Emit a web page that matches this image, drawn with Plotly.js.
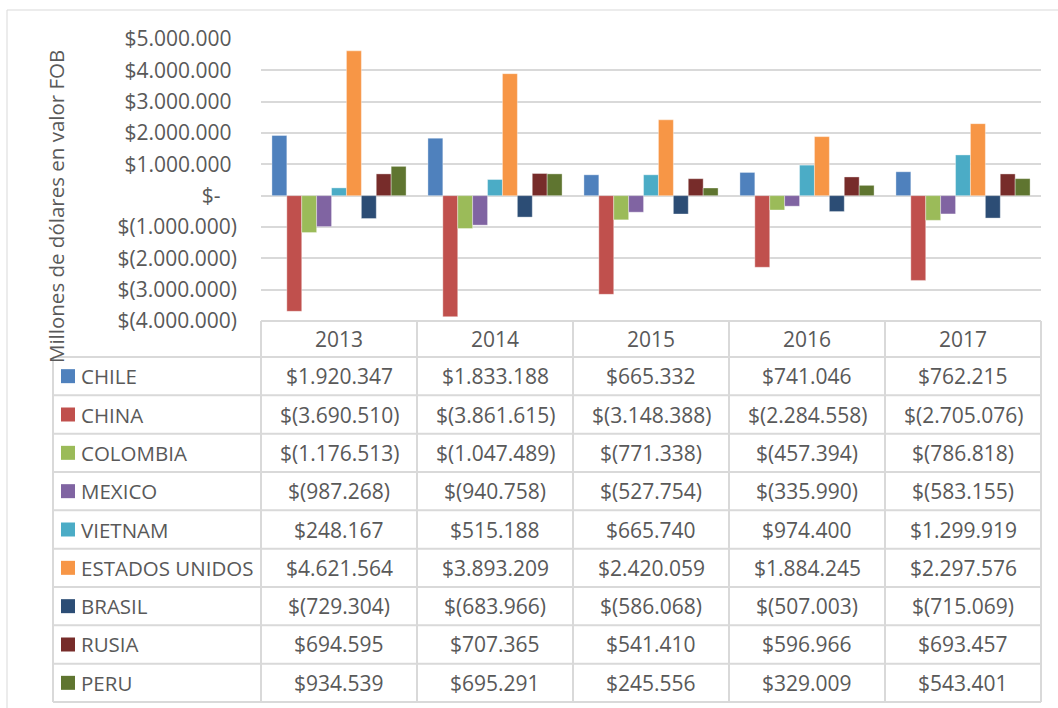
<!DOCTYPE html>
<html>
<head>
<meta charset="utf-8">
<script src="https://cdn.plot.ly/plotly-3.0.1.min.js"></script>
<style>html,body{margin:0;padding:0;background:#fff;}#chart{width:1058px;height:708px;}</style>
</head>
<body>
<div id="chart"></div>
<script>
// ---- data ----
const years = ['2013', '2014', '2015', '2016', '2017'];
const countries = ['CHILE', 'CHINA', 'COLOMBIA', 'MEXICO', 'VIETNAM', 'ESTADOS UNIDOS', 'BRASIL', 'RUSIA', 'PERU'];
const chile    = [1920347, 1833188, 665332, 741046, 762215];
const china    = [-3690510, -3861615, -3148388, -2284558, -2705076];
const colombia = [-1176513, -1047489, -771338, -457394, -786818];
const mexico   = [-987268, -940758, -527754, -335990, -583155];
const vietnam  = [248167, 515188, 665740, 974400, 1299919];
const eeuu     = [4621564, 3893209, 2420059, 1884245, 2297576];
const brasil   = [-729304, -683966, -586068, -507003, -715069];
const rusia    = [694595, 707365, 541410, 596966, 693457];
const peru     = [934539, 695291, 245556, 329009, 543401];
const colors = ['#4F81BD', '#C0504D', '#9BBB59', '#8064A2', '#4BACC6', '#F79646', '#2C4D75', '#772C2A', '#5F7530'];
const yTicks = [5000000, 4000000, 3000000, 2000000, 1000000, 0, -1000000, -2000000, -3000000, -4000000];
const yTitle = 'Millones de dólares en valor FOB';

const series = [chile, china, colombia, mexico, vietnam, eeuu, brasil, rusia, peru];

function fmt(v) {
  if (v === 0) return '$-';
  const s = Math.abs(Math.round(v)).toString().replace(/\B(?=(\d{3})+(?!\d))/g, '.');
  return v < 0 ? '$(' + s + ')' : '$' + s;
}
function tickFmt(v) {
  if (v === 0) return '$-\u00a0\u00a0\u00a0';
  return v < 0 ? fmt(v) : fmt(v) + '\u00a0';
}

// ---- geometry (pixels) ----
const W = 1058, H = 708;
const L = 261, R = 1041, T = 39, B = 321;
const px = x => (x - L) / (R - L);
const py = y => (B - y) / (B - T);
const FONT = 'Open Sans, Noto Sans, sans-serif';
const TXT = '#595959';
const GRID = '#d9d9d9';

const traces = series.map((vals, i) => ({
  type: 'bar',
  name: countries[i],
  x: years,
  y: vals,
  marker: { color: colors[i], line: { color: 'rgba(255,255,255,0.45)', width: 0.8 } },
  hoverinfo: 'name+y'
}));

const shapes = [];
const annotations = [];

// outer chart border
shapes.push({ type: 'rect', xref: 'paper', yref: 'paper', x0: px(7), x1: px(1070), y0: py(10), y1: py(720),
  line: { color: GRID, width: 1 }, layer: 'below' });

// table geometry
const headTop = 321, headBot = 357, rowH = (702 - 357) / countries.length;
const colX = years.map((_, j) => L + j * (R - L) / years.length);
colX.push(R);
const tableLeft = 53;

// vertical lines of year columns
colX.forEach(x => shapes.push({ type: 'line', xref: 'paper', yref: 'paper', x0: px(x), x1: px(x), y0: py(headTop), y1: py(702),
  line: { color: GRID, width: 2 } }));
// header top line
shapes.push({ type: 'line', xref: 'paper', yref: 'paper', x0: px(L), x1: px(R), y0: py(headTop), y1: py(headTop), line: { color: GRID, width: 2 } });
// left column line
shapes.push({ type: 'line', xref: 'paper', yref: 'paper', x0: px(tableLeft), x1: px(tableLeft), y0: py(headBot), y1: py(702), line: { color: GRID, width: 2 } });
// row lines
for (let k = 0; k <= countries.length; k++) {
  const y = headBot + k * rowH;
  shapes.push({ type: 'line', xref: 'paper', yref: 'paper', x0: px(tableLeft), x1: px(R), y0: py(y), y1: py(y), line: { color: GRID, width: 2 } });
}
// header years
years.forEach((yr, j) => annotations.push({ xref: 'paper', yref: 'paper', x: px((colX[j] + colX[j + 1]) / 2), y: py((headTop + headBot) / 2),
  text: yr, showarrow: false, xanchor: 'center', yanchor: 'middle', font: { family: FONT, size: 21, color: TXT } }));
// rows
countries.forEach((c, i) => {
  const yc = headBot + i * rowH + rowH / 2;
  shapes.push({ type: 'rect', xref: 'paper', yref: 'paper', x0: px(61), x1: px(75), y0: py(yc - 7), y1: py(yc + 7),
    fillcolor: colors[i], line: { width: 0 } });
  annotations.push({ xref: 'paper', yref: 'paper', x: px(79), y: py(yc), text: c, showarrow: false, xanchor: 'left', yanchor: 'middle',
    font: { family: FONT, size: 20.5, color: TXT } });
  series[i].forEach((v, j) => annotations.push({ xref: 'paper', yref: 'paper', x: px((colX[j] + colX[j + 1]) / 2), y: py(yc),
    text: fmt(v), showarrow: false, xanchor: 'center', yanchor: 'middle', font: { family: FONT, size: 21, color: TXT } }));
});

// y-axis title (rotated)
annotations.push({ xref: 'paper', yref: 'paper', x: px(56), y: py(207), text: yTitle, textangle: -90, showarrow: false,
  xanchor: 'center', yanchor: 'middle', font: { family: FONT, size: 20.5, color: TXT } });

const layout = {
  width: W, height: H,
  margin: { l: L, r: W - R, t: T, b: H - B, pad: 0 },
  paper_bgcolor: '#ffffff', plot_bgcolor: '#ffffff',
  barmode: 'group', bargap: 0.14, bargroupgap: 0,
  showlegend: false,
  font: { family: FONT, color: TXT },
  xaxis: { type: 'category', range: [-0.5, 4.5], showticklabels: false, showgrid: false, zeroline: false, showline: false, ticks: '' },
  yaxis: { range: [-4000000, 5000000], tickvals: yTicks, ticktext: yTicks.map(tickFmt), showgrid: true, gridcolor: GRID, gridwidth: 2,
    zeroline: false, showline: false, ticks: '', ticklabelstandoff: 23, tickfont: { family: FONT, size: 21, color: TXT } },
  shapes: shapes,
  annotations: annotations
};

Plotly.newPlot('chart', traces, layout, { displayModeBar: false, staticPlot: true });
</script>
</body>
</html>
